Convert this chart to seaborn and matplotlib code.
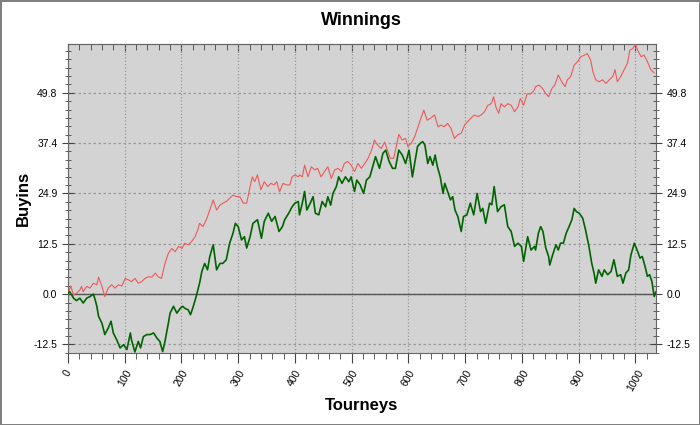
import matplotlib
matplotlib.use("Agg")
import matplotlib.pyplot as plt
import seaborn as sns
import pandas as pd
from matplotlib.ticker import MultipleLocator, FixedLocator

green_x = [0, 3, 10, 15, 21, 27, 33, 39, 45, 48, 51, 54, 60, 65, 71, 76, 80, 86, 92, 98,
           104, 110, 112, 118, 124, 128, 133, 139, 145, 151, 157, 162, 167, 171, 177, 180, 186, 192, 198, 202,
           206, 212, 216, 221, 226, 232, 236, 241, 246, 250, 256, 262, 268, 273, 279, 285, 291, 295, 300, 306,
           311, 315, 321, 326, 334, 341, 346, 353, 359, 365, 372, 378, 382, 389, 395, 400, 406,
           408, 413, 417, 421, 427, 432, 436, 442, 448, 454, 458, 463, 467, 473, 477, 483, 489, 495, 499, 505,
           509, 515, 521, 526, 532, 537, 542, 549, 555, 560, 566, 572, 577, 583, 589, 595, 601, 607, 613,
           616, 621, 625, 629, 634, 638, 643, 647, 651, 656, 661, 664, 669, 674, 678, 682, 687, 693, 697, 703,
           709, 715, 721, 727, 731, 736, 743, 747, 751, 757, 763, 769, 775, 781, 787, 793, 799, 803, 810, 816, 822,
           824, 829, 833, 837, 842, 847, 849, 854, 860, 864, 868, 873, 878, 883, 888, 892, 896, 901, 907, 912,
           918, 923, 927, 930, 935, 941, 945, 951, 957, 962, 968, 974, 978, 983, 988, 992, 998, 1004, 1008, 1012,
           1017, 1021, 1025, 1029, 1033, 1036]
green_y = [0.2, 0.6, -1, -1.6, -1, -2.2, -1, -0.6, 0, -1.4, -3, -5.5, -7.2, -10, -8.4, -6.7, -9.6, -11.3, -13.3, -12.5,
           -13.7, -9.6, -11.3, -14.3, -11.7, -13.3, -10.5, -10, -10, -9.6, -10.9, -11.7, -14.2, -11.7, -7.2, -4.7, -3, -4.7, -3.5, -3,
           -3.5, -3.9, -5.1, -3, -0.6, 2.7, 5.6, 7.6, 6, 9.3, 12.2, 6, 7.6, 7.6, 8.5, 12.6, 15.1, 17.5, 16.7, 13.4,
           14.2, 11.4, 14.2, 17.5, 18.4, 13.8, 18, 20, 18, 19.2, 15.5, 16.7, 18.4, 20, 21.6, 22.5, 22.9,
           19.6, 22.5, 25.4, 20.8, 22.5, 24.1, 20, 19.6, 22.9, 21.6, 24.1, 22, 24.9, 26.6, 29, 27.4, 29, 27.8, 29, 25.4,
           28.2, 27, 24.9, 28.2, 29, 31.5, 34, 31.1, 34.8, 35.6, 32.8, 31.1, 31.1, 35.6, 34.4, 32.3, 35.6, 29, 34,
           36.5, 37.3, 37.7, 36.9, 32.3, 34, 31.9, 34.4, 31.5, 29, 24.9, 27.4, 25.4, 23.3, 24.1, 20.8, 19.2, 15.5, 19.2, 19.6,
           22.5, 19.6, 24.9, 20.4, 21.2, 17.5, 22.5, 22.1, 26.6, 20.4, 21.6, 22.1, 16.7, 15.5, 11.8, 12.6, 11.8, 8.1, 14.2, 10.9, 11.8,
           10.9, 15.1, 16.7, 15.5, 11.4, 9.3, 7.2, 9.7, 12.2, 10.9, 12.6, 12.6, 15.1, 16.7, 18.4, 21.2, 20.4, 20, 18.8, 15.9,
           11.8, 7.6, 5.2, 2.7, 6, 4.4, 6, 4.8, 5.6, 8.5, 4.4, 4.8, 2.7, 5.2, 6, 9.7, 12.6, 10.5, 8.9, 9.3,
           6.8, 4.4, 4.8, 3.1, -0.6, 0.6]

# red line
red_x = [0, 5, 10, 15, 21, 24, 27, 33, 39, 45, 51, 54, 60, 65, 71, 77, 83, 89, 95, 101,
         107, 112, 118, 124, 130, 136, 142, 148, 154, 159, 165, 171, 177, 183, 189, 195, 201,
         206, 212, 218, 224, 229, 232, 238, 244, 250, 256, 262, 268, 273, 279, 285, 291, 297, 303, 309, 315,
         321, 325, 329, 334, 340, 346, 352, 358, 363, 368, 373, 379, 385, 391, 395, 400, 406,
         408, 413, 417, 423, 429, 435, 440, 446, 452, 458, 464, 470, 476, 482, 487, 493, 499, 505, 511, 517,
         523, 529, 535, 540, 546, 552, 558, 562, 568, 574, 579, 583, 589, 595, 599, 605, 611, 615,
         622, 627, 633, 639, 646, 652, 657, 663, 669, 675, 681, 687, 693, 699, 704, 710, 716, 722, 728, 734,
         740, 746, 750, 754, 759, 763, 769, 775, 781, 787, 793, 797, 803, 809, 815, 821,
         824, 830, 836, 842, 847, 853, 858, 864, 870, 876, 880, 886, 892, 898, 904, 910, 915, 921, 925, 930,
         936, 942, 948, 954, 960, 964, 968, 974, 980, 986, 990, 995, 1000, 1004, 1010, 1015, 1021, 1027, 1033]
red_y = [0.2, 2, -0.2, 0.2, 1, 1.9, 0.6, 1.9, 1.5, 2.7, 2.3, 4.2, 1.9, -0.6, 1.5, 2.3, 1.5, 2.3, 2, 3.9,
         3.5, 3.1, 3.9, 2.7, 3.1, 3.9, 4.3, 4.2, 5.2, 4.3, 3.9, 7.6, 10.1, 11.3, 10.5, 11.8, 11.3,
         12.6, 12.2, 13, 14.2, 15.9, 17.5, 16.7, 18.4, 20.8, 23.3, 20.8, 22, 22.5, 22.9, 23.7, 24.5, 24.1, 24.1, 22.5, 22.5,
         26.6, 29, 27.8, 29.5, 25.8, 27.8, 26.6, 27.4, 27, 27.8, 25.3, 27.4, 27, 27, 29, 29.5, 29,
         29.5, 29, 31.9, 29, 31.5, 30.7, 31.1, 29, 30.3, 31.5, 28.6, 30.7, 31.1, 30.3, 32.3, 32.8, 31.9, 30.3, 32.3, 31.1,
         32.3, 33.6, 35.6, 38.1, 36.8, 36, 37.6, 36, 33.6, 33.6, 36.8, 39.5, 38.1, 38.5, 36.5, 37.3, 38.9, 40.6,
         43.5, 45.5, 43, 43.5, 44.3, 41.4, 41.8, 41.4, 42.2, 41, 38.5, 39.4, 39.8, 41.8, 42.6, 43.5, 44.3, 43.9, 44.3, 45.1,
         46.7, 47.1, 48.8, 46.3, 44.7, 47.1, 46.3, 47.1, 46.7, 45.1, 46.3, 48.4, 46.7, 49.5, 49.5, 50.3,
         51.3, 51.7, 50.9, 49.6, 48.8, 50.9, 51.7, 54.2, 52.5, 51.3, 53, 53.8, 56.6, 57.5, 58.7, 59.1, 59.5, 57.9, 55, 53,
         52.5, 53, 52.1, 53, 53.8, 55.5, 52.5, 53.8, 55.5, 57.1, 60.3, 60.7, 61.8, 60.3, 58.7, 59.1, 57.5, 55.5, 54.7]

ytick_vals = [-12.45, 0, 12.45, 24.9, 37.35, 49.8]
ytick_labels = ["-12.5", "0.0", "12.5", "24.9", "37.4", "49.8"]
xtick_vals = [0, 100, 200, 300, 400, 500, 600, 700, 800, 900, 1000]

green = pd.DataFrame({"Tourneys": green_x, "Buyins": green_y})
red = pd.DataFrame({"Tourneys": red_x, "Buyins": red_y})

sns.set_style("ticks")
plt.rcParams["font.family"] = ["Liberation Sans", "DejaVu Sans"]
plt.rcParams["text.color"] = "black"
plt.rcParams["axes.labelcolor"] = "black"

fig = plt.figure(figsize=(7, 4.25), dpi=100)
fig.patch.set_edgecolor("#808080")
fig.patch.set_linewidth(2)
ax = fig.add_axes([0.097, 0.169, 0.84, 0.727])
ax.set_facecolor("#d3d3d3")

ax.axhline(0, color="#555555", lw=1, zorder=1)
sns.lineplot(data=red, x="Tourneys", y="Buyins", ax=ax, color="#f05858", lw=0.8,
             estimator=None, sort=False, zorder=3)
sns.lineplot(data=green, x="Tourneys", y="Buyins", ax=ax, color="#006400", lw=1.2,
             estimator=None, sort=False, zorder=4)

ax.set_xlim(0, 1036)
ax.set_ylim(-14.6, 61.8)
ax.set_xticks(xtick_vals)
ax.set_xticklabels([str(v) for v in xtick_vals], rotation=60, fontsize=7.5)
ax.xaxis.set_minor_locator(MultipleLocator(20))
ax.yaxis.set_major_locator(FixedLocator(ytick_vals))
ax.set_yticklabels(ytick_labels, fontsize=7.5)
ax.yaxis.set_minor_locator(MultipleLocator(12.45 / 6))

ax.grid(axis="x", which="major", color="#999999", ls=":", lw=0.9)
ax.grid(axis="y", which="major", color="#999999", ls="--", lw=0.9, dashes=(2, 2))
ax.set_axisbelow(True)

ax.tick_params(axis="y", which="both", left=True, right=True, labelright=True,
               direction="inout", colors="#444444", labelcolor="black")
ax.tick_params(axis="y", which="major", length=8)
ax.tick_params(axis="y", which="minor", length=5)
ax.tick_params(axis="x", which="both", bottom=True, top=False, direction="out",
               colors="#444444", labelcolor="black")
ax.tick_params(axis="x", which="major", length=7)
ax.tick_params(axis="x", which="minor", length=4)

# top ticks point inward
top = ax.secondary_xaxis("top")
top.set_xticks(xtick_vals)
top.xaxis.set_minor_locator(MultipleLocator(20))
top.tick_params(which="both", direction="in", labeltop=False, colors="#444444")
top.tick_params(which="major", length=6)
top.tick_params(which="minor", length=4)

for sp in list(ax.spines.values()) + list(top.spines.values()):
    sp.set_color("#666666")

ax.set_title("Winnings", fontsize=13, fontweight="bold", pad=14, color="black")
ax.set_xlabel("Tourneys", fontsize=12, fontweight="bold", labelpad=4)
ax.set_ylabel("Buyins", fontsize=12, fontweight="bold", labelpad=2)

fig.savefig("out.png", dpi=100, edgecolor=fig.get_edgecolor())
